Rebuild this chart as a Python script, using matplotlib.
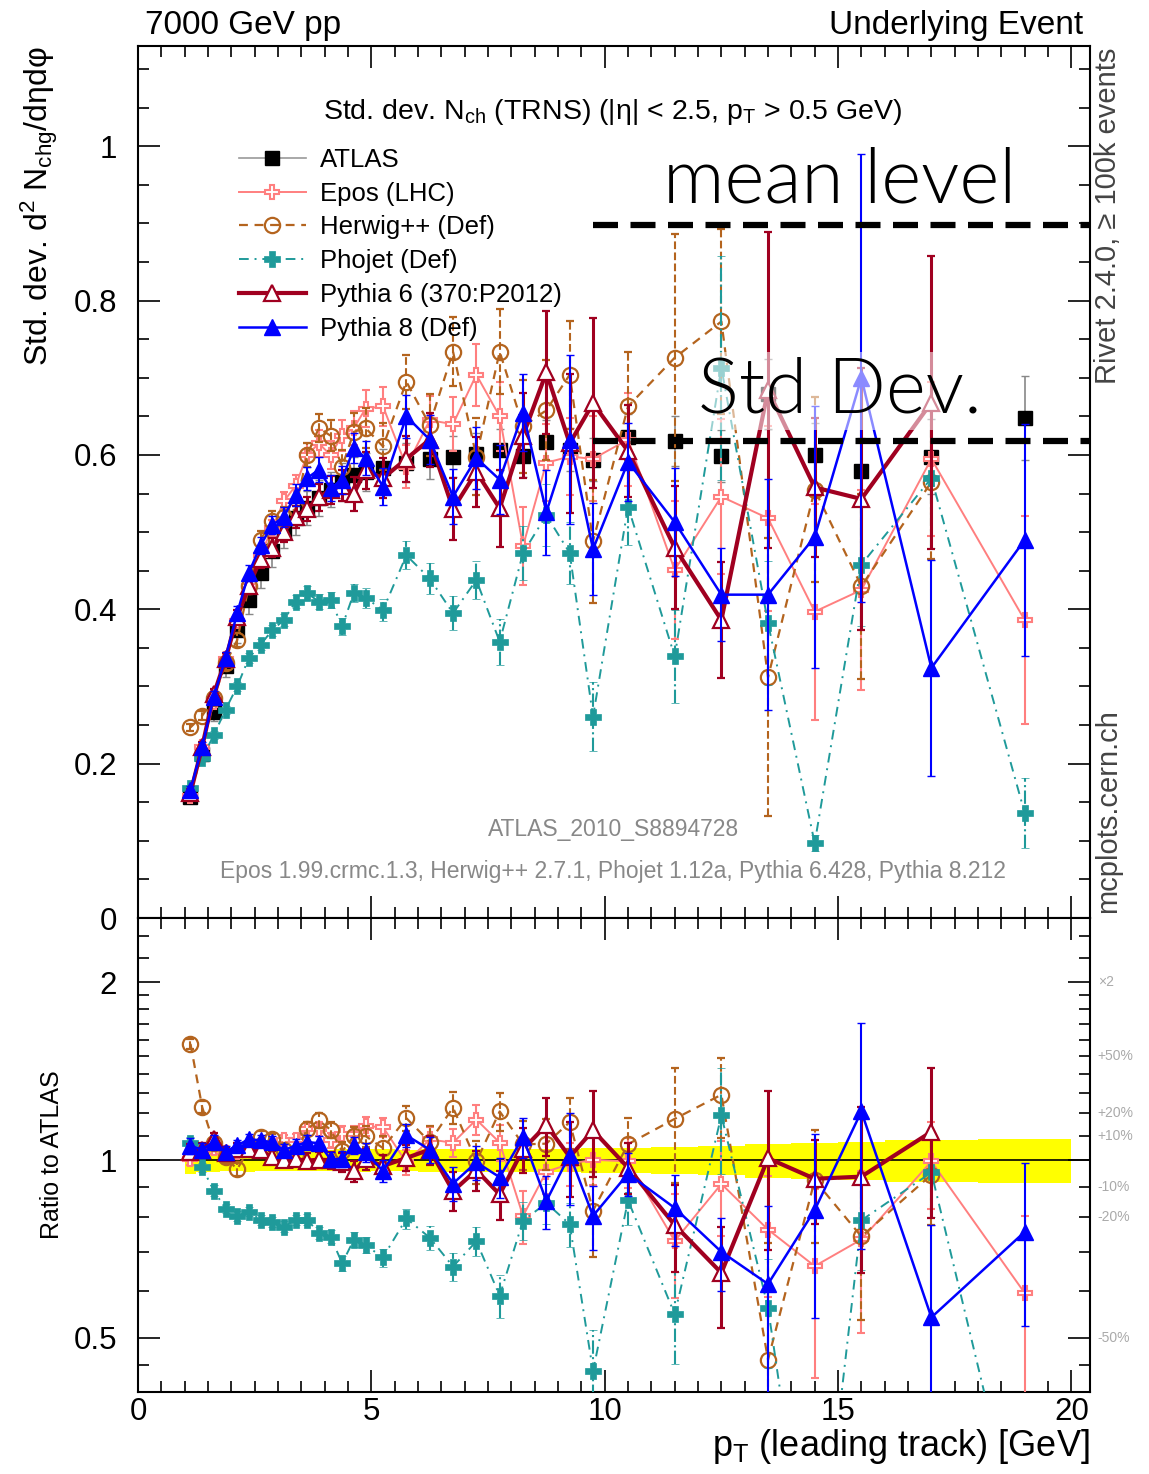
import numpy as np
import matplotlib
matplotlib.use('Agg')
import matplotlib.pyplot as plt
from matplotlib.lines import Line2D
from matplotlib.ticker import MultipleLocator, FixedLocator, FuncFormatter, NullFormatter
import matplotlib.transforms as mtransforms

plt.rcParams['font.family'] = ['Liberation Sans', 'DejaVu Sans']
plt.rcParams['mathtext.fontset'] = 'custom'
plt.rcParams['mathtext.rm'] = 'Liberation Sans'
plt.rcParams['mathtext.it'] = 'Liberation Sans:italic'

# leading track pT bins [GeV]
pt_edges = [1.0, 1.25, 1.5, 1.75, 2.0, 2.25, 2.5, 2.75, 3.0, 3.25, 3.5, 3.75, 4.0,
             4.25, 4.5, 4.75, 5.0, 5.5, 6.0, 6.5, 7.0, 7.5, 8.0, 8.5, 9.0, 9.5, 10.0,
             11.0, 12.0, 13.0, 14.0, 15.0, 16.0, 18.0, 20.0]

atlas = [0.157, 0.213, 0.267, 0.326, 0.373, 0.412, 0.447, 0.475, 0.500, 0.518, 0.531,
         0.544, 0.555, 0.565, 0.574, 0.578, 0.583, 0.590, 0.595, 0.598, 0.601, 0.607,
         0.599, 0.617, 0.607, 0.594, 0.623, 0.618, 0.599, 0.679, 0.600, 0.579, 0.598, 0.648]
atlas_err = [0.008, 0.010, 0.012, 0.014, 0.016, 0.018, 0.019, 0.020, 0.021, 0.022, 0.022,
             0.023, 0.023, 0.024, 0.024, 0.025, 0.025, 0.025, 0.026, 0.026, 0.027, 0.027,
             0.027, 0.028, 0.028, 0.028, 0.030, 0.032, 0.034, 0.045, 0.042, 0.043, 0.048, 0.055]

epos = [0.158, 0.222, 0.280, 0.335, 0.385, 0.430, 0.470, 0.505, 0.540, 0.560, 0.600,
        0.615, 0.600, 0.625, 0.635, 0.660, 0.663, 0.585, 0.645, 0.640, 0.704, 0.650,
        0.482, 0.590, 0.598, 0.595, 0.620, 0.451, 0.546, 0.518, 0.397, 0.425, 0.595, 0.386]
epos_err = [0.004, 0.005, 0.006, 0.007, 0.008, 0.009, 0.010, 0.011, 0.012, 0.014, 0.016,
            0.017, 0.018, 0.020, 0.022, 0.024, 0.025, 0.028, 0.032, 0.035, 0.040, 0.045,
            0.050, 0.050, 0.050, 0.055, 0.060, 0.090, 0.100, 0.120, 0.140, 0.130, 0.100, 0.135]

herwig = [0.247, 0.262, 0.285, 0.330, 0.360, 0.430, 0.490, 0.515, 0.520, 0.530, 0.600,
          0.635, 0.625, 0.585, 0.630, 0.635, 0.611, 0.695, 0.639, 0.734, 0.598, 0.734,
          0.637, 0.658, 0.704, 0.488, 0.663, 0.726, 0.773, 0.312, 0.555, 0.430, 0.565, np.nan]
herwig_err = [0.005, 0.006, 0.007, 0.008, 0.009, 0.010, 0.011, 0.012, 0.013, 0.014, 0.016,
              0.018, 0.020, 0.022, 0.024, 0.026, 0.030, 0.035, 0.040, 0.045, 0.050, 0.055,
              0.060, 0.065, 0.070, 0.080, 0.070, 0.160, 0.120, 0.180, 0.120, 0.120, 0.100, np.nan]

phojet = [0.168, 0.207, 0.237, 0.270, 0.300, 0.337, 0.354, 0.373, 0.386, 0.410, 0.421,
          0.410, 0.412, 0.378, 0.421, 0.415, 0.399, 0.470, 0.440, 0.395, 0.438, 0.358,
          0.473, 0.522, 0.473, 0.261, 0.533, 0.339, 0.713, 0.382, 0.097, 0.458, 0.570, 0.136]
phojet_err = [0.004, 0.004, 0.005, 0.005, 0.006, 0.006, 0.007, 0.007, 0.008, 0.008, 0.009,
              0.010, 0.010, 0.011, 0.012, 0.013, 0.014, 0.018, 0.020, 0.022, 0.025, 0.030,
              0.035, 0.040, 0.040, 0.045, 0.050, 0.060, 0.145, 0.080, 0.010, 0.080, 0.090, 0.045]

py6 = [0.162, 0.222, 0.290, 0.335, 0.390, 0.430, 0.465, 0.480, 0.500, 0.520, 0.530,
       0.545, 0.555, 0.560, 0.550, 0.580, 0.570, 0.595, 0.620, 0.530, 0.578, 0.531,
       0.625, 0.707, 0.615, 0.667, 0.605, 0.480, 0.386, 0.684, 0.558, 0.543, 0.668, np.nan]
py6_err = [0.005, 0.006, 0.007, 0.008, 0.009, 0.010, 0.011, 0.012, 0.013, 0.014, 0.015,
           0.017, 0.018, 0.020, 0.022, 0.024, 0.026, 0.030, 0.035, 0.040, 0.045, 0.050,
           0.055, 0.080, 0.090, 0.110, 0.060, 0.080, 0.075, 0.205, 0.090, 0.170, 0.190, np.nan]

py8 = [0.166, 0.222, 0.287, 0.337, 0.395, 0.447, 0.483, 0.509, 0.520, 0.548, 0.570,
       0.581, 0.557, 0.568, 0.609, 0.596, 0.559, 0.650, 0.620, 0.546, 0.596, 0.568,
       0.655, 0.526, 0.620, 0.478, 0.591, 0.513, 0.419, 0.419, 0.494, 0.700, 0.324, 0.490]
py8_err = [0.005, 0.006, 0.007, 0.008, 0.009, 0.010, 0.011, 0.012, 0.013, 0.014, 0.015,
           0.016, 0.017, 0.018, 0.020, 0.022, 0.024, 0.028, 0.032, 0.036, 0.040, 0.045,
           0.050, 0.055, 0.110, 0.060, 0.050, 0.070, 0.060, 0.150, 0.170, 0.290, 0.140, 0.150]

ratio_marks = [2.0, 1.5, 1.2, 1.1, 0.9, 0.8, 0.5]
ratio_mark_labels = ['×2', '+50%', '+20%', '+10%', '-10%', '-20%', '-50%']

edges = np.array(pt_edges)
x = 0.5 * (edges[1:] + edges[:-1])
atlas = np.array(atlas)
atlas_err = np.array(atlas_err)

models = [
    ('Epos (LHC)', epos, epos_err, dict(color='#ff7f7f', ls='-', lw=1.4, marker='P', mfc='white', ms=10, mew=1.5), '-'),
    ('Herwig++ (Def)', herwig, herwig_err, dict(color='#b4641e', ls=(0, (4, 3)), lw=1.6, marker='o', mfc='none', ms=11, mew=1.6), '--'),
    ('Phojet (Def)', phojet, phojet_err, dict(color='#1f9a9a', ls=(0, (5, 3, 1, 3)), lw=1.4, marker='P', mfc='#1f9a9a', ms=12, mew=0.5), '-.'),
    ('Pythia 6 (370:P2012)', py6, py6_err, dict(color='#a00020', ls='-', lw=3.0, marker='^', mfc='white', ms=12, mew=1.6), '-'),
    ('Pythia 8 (Def)', py8, py8_err, dict(color='#0000ff', ls='-', lw=1.8, marker='^', mfc='#0000ff', ms=11, mew=1.0), '-'),
]

fig = plt.figure(figsize=(11.49, 14.74), dpi=100)
ax = fig.add_axes([0.1201, 0.3772, 0.8286, 0.5916])
ax2 = fig.add_axes([0.1201, 0.0556, 0.8286, 0.3216], sharex=ax)

# ---- main panel
ax.errorbar(x, atlas, yerr=atlas_err, fmt='s', color='black', ms=10, ecolor='#888888',
            elinewidth=1.2, capsize=3, zorder=3)
for i, (name, y, err, st, els) in enumerate(models):
    y = np.array(y, dtype=float)
    err = np.array(err, dtype=float)
    eb = ax.errorbar(x, y, yerr=err, color=st['color'], ls=st['ls'], lw=st['lw'],
                     marker=st['marker'], mfc=st['mfc'], mec=st['color'], ms=st['ms'],
                     mew=st['mew'], elinewidth=1.5 if i != 3 else 2.2, capsize=3, zorder=4 + i)
    eb[2][0].set_linestyle(els)
    r = y / atlas
    rerr = err / atlas
    eb2 = ax2.errorbar(x, r, yerr=rerr, color=st['color'], ls=st['ls'], lw=st['lw'],
                       marker=st['marker'], mfc=st['mfc'], mec=st['color'], ms=st['ms'],
                       mew=st['mew'], elinewidth=1.5 if i != 3 else 2.2, capsize=3, zorder=4 + i)
    eb2[2][0].set_linestyle(els)

ax.set_xlim(0, 20.4)
ax.set_ylim(0, 1.13)
ax.yaxis.set_major_locator(MultipleLocator(0.2))
ax.yaxis.set_minor_locator(MultipleLocator(0.05))
ax.yaxis.set_major_formatter(FuncFormatter(lambda v, p: '%g' % round(v, 2)))
ax.xaxis.set_major_locator(MultipleLocator(5))
ax.xaxis.set_minor_locator(MultipleLocator(0.5))
for a in (ax, ax2):
    a.tick_params(which='both', direction='in', top=True, right=True, labelsize=22.5, width=1.2)
    a.tick_params(which='major', length=16)
    a.tick_params(which='minor', length=8)
    a.tick_params(axis='y', which='major', pad=15)
    for s in a.spines.values():
        s.set_linewidth(1.5)
ax.tick_params(labelbottom=False)

ax.set_ylabel('Std. dev. d$^2$ N$_{\\rm chg}$/dηdφ', fontsize=23, loc='top', labelpad=10)

ax.text(0.499, 0.916, 'Std. dev. N$_{\\rm ch}$ (TRNS) (|η| < 2.5, p$_{\\rm T}$ > 0.5 GeV)',
        transform=ax.transAxes, ha='center', va='baseline', fontsize=20.5)

handles = [Line2D([], [], color='#999999', lw=1.2, marker='s', mfc='black', mec='black', ms=10)]
for name, y, err, st, els in models:
    handles.append(Line2D([], [], color=st['color'], ls=st['ls'], lw=st['lw'], marker=st['marker'],
                          mfc=st['mfc'], mec=st['color'], ms=st['ms'], mew=st['mew']))
labels = ['ATLAS'] + [m[0] for m in models]
ax.legend(handles, labels, loc='upper left', bbox_to_anchor=(0.095, 0.895), frameon=False,
          fontsize=18.5, handlelength=2.6, handletextpad=0.55, labelspacing=0.38, borderaxespad=0)

ax.text(0.499, 0.094, 'ATLAS_2010_S8894728', transform=ax.transAxes, ha='center',
        va='baseline', fontsize=16.5, color='#888888')
ax.text(0.499, 0.046, 'Epos 1.99.crmc.1.3, Herwig++ 2.7.1, Phojet 1.12a, Pythia 6.428, Pythia 8.212',
        transform=ax.transAxes, ha='center', va='baseline', fontsize=16.5, color='#888888')

# annotations: mean level / std dev markers
mean_level_y = 0.898
std_level_y = 0.618
for yl in (mean_level_y, std_level_y):
    ax.axhline(yl, xmin=0.478, xmax=1.0, color='black', lw=4.5, dashes=(4.0, 2.0), zorder=20)
ax.text(0.737, 0.845, 'mean level', transform=ax.transAxes, ha='center', va='center',
        fontsize=55, family='Lato', fontweight=300, zorder=21)
ax.text(0.737, 0.604, 'Std Dev.', transform=ax.transAxes, ha='center', va='center',
        fontsize=55, family='Lato', fontweight=300, zorder=21,
        bbox=dict(boxstyle='square,pad=0.05', fc='white', ec='none', alpha=0.55))

fig.text(145 / 1149, 1 - 34 / 1474, '7000 GeV pp', fontsize=24, ha='left', va='baseline')
fig.text(1083 / 1149, 1 - 34 / 1474, 'Underlying Event', fontsize=24, ha='right', va='baseline')
fig.text(1108 / 1149, 1 - 48 / 1474, 'Rivet 2.4.0, ≥ 100k events', fontsize=21, rotation=90,
         ha='center', va='top', color='#444444')
fig.text(1108 / 1149, 1 - 913 / 1474, 'mcplots.cern.ch', fontsize=21, rotation=90,
         ha='center', va='bottom', color='#444444')

# ---- ratio panel
band_lo = np.append(1 - atlas_err / atlas, (1 - atlas_err / atlas)[-1])
band_hi = np.append(1 + atlas_err / atlas, (1 + atlas_err / atlas)[-1])
ax2.fill_between(edges, band_lo, band_hi, step='post', color='#ffff00', lw=0, zorder=1)
ax2.axhline(1.0, color='black', lw=1.2, zorder=2)

ax2.set_yscale('log')
ax2.set_ylim(0.405, 2.57)
ax2.yaxis.set_major_locator(FixedLocator([0.5, 1, 2]))
ax2.yaxis.set_major_formatter(FuncFormatter(lambda v, p: '%g' % v))
ax2.yaxis.set_minor_locator(FixedLocator([0.45, 0.6, 0.7, 0.8, 0.9, 1.1, 1.2, 1.3, 1.4, 1.5,
                                          1.6, 1.7, 1.8, 1.9, 2.2, 2.4]))
ax2.yaxis.set_minor_formatter(NullFormatter())
ax2.set_xlim(0, 20.4)
ax2.xaxis.set_major_formatter(FuncFormatter(lambda v, p: '%g' % v))
ax2.set_ylabel('Ratio to ATLAS', fontsize=18, labelpad=7)
ax2.set_xlabel('p$_{\\rm T}$ (leading track) [GeV]', fontsize=26, loc='right', labelpad=0)

trans = mtransforms.blended_transform_factory(ax2.transAxes, ax2.transData)
for v, lab in zip(ratio_marks, ratio_mark_labels):
    ax2.text(1.008, v, lab, transform=trans, ha='left', va='center', fontsize=10, color='#aaaaaa')

fig.savefig('out.png', dpi=100)
